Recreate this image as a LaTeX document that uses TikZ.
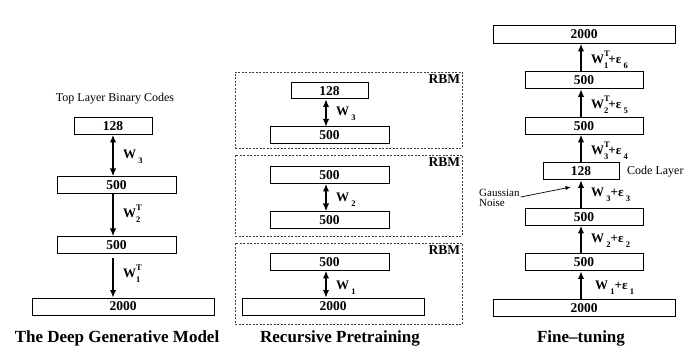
\documentclass[tikz,border=0pt]{standalone}
\usepackage{fontspec}
\setmainfont{Liberation Serif}
\usetikzlibrary{arrows.meta}
\newcommand{\wts}[2]{W\makebox[0pt][l]{\raisebox{0.5em}{\fontsize{8.5}{9}\selectfont #1}}\raisebox{-0.4em}{\fontsize{8.5}{9}\selectfont #2}}
\newcommand{\wsb}[1]{W\,\raisebox{-0.4em}{\fontsize{8.5}{9}\selectfont #1}}
\newcommand{\eps}[1]{ε\,\raisebox{-0.4em}{\fontsize{8.5}{9}\selectfont #1}}
\begin{document}
\begin{tikzpicture}[x=1pt,y=-1pt,
 layer/.style={draw, line width=1pt, minimum height=17pt, inner sep=0pt, font=\fontsize{13.5}{14}\selectfont\bfseries},
 lbl/.style={font=\fontsize{13}{14}\selectfont\bfseries, anchor=west, inner sep=0pt},
 arr/.style={-{Latex[length=7.5pt,width=6.5pt]}, line width=1.1pt},
 darr/.style={{Latex[length=7.5pt,width=6.5pt]}-{Latex[length=7.5pt,width=6.5pt]}, line width=1.1pt},
 rbm/.style={draw=black!75, dash pattern=on 2pt off 1.5pt, line width=0.7pt, inner sep=0pt},
 rbmlbl/.style={font=\fontsize{13.5}{14}\selectfont\bfseries, anchor=north east, inner sep=0pt, xshift=-2pt, yshift=-3pt},
 title/.style={font=\fontsize{17}{18}\selectfont\bfseries, inner sep=0pt},
 note/.style={font=\fontsize{12}{13}\selectfont, inner sep=0pt},
]
\useasboundingbox (0,0) rectangle (685,347);

% ---------- Left column ----------
\node[note] (toplbl) at (115,99) {Top Layer Binary Codes};
\node[layer, minimum width=78pt] (L128) at (113,126) {128};
\node[layer, minimum width=119pt] (L500a) at (116.5,185) {500};
\node[layer, minimum width=119pt] (L500b) at (116.5,245) {500};
\node[layer, minimum width=182pt] (L2000) at (123,306.5) {2000};
\draw[darr] (L128.south) -- (L128.south |- L500a.north);
\draw[arr] (L128.south |- L500a.south) -- (L128.south |- L500b.north);
\draw[arr] ([yshift=-4pt]L128.south |- L500b.south) -- (L128.south |- L2000.north);
\node[lbl] (lw3) at (123,157) {\wsb{3}};
\node[lbl] (lw2) at (123,214) {\wts{T}{2}};
\node[lbl] (lw1) at (123,274) {\wts{T}{1}};
\node[title] (t1) at (117,338) {The Deep Generative Model};

% ---------- Middle column ----------
\node[rbm, minimum width=227pt, minimum height=76pt] (F1) at (348.5,110) {};
\node[rbm, minimum width=227pt, minimum height=81pt] (F2) at (348.5,195.5) {};
\node[rbm, minimum width=227pt, minimum height=81pt] (F3) at (348.5,283.5) {};
\node[rbmlbl] (r1) at (F1.north east) {RBM};
\node[rbmlbl] (r2) at (F2.north east) {RBM};
\node[rbmlbl] (r3) at (F3.north east) {RBM};
\node[layer, minimum width=77pt, minimum height=16pt] (M128) at (329.5,91) {128};
\node[layer, minimum width=119pt] (M500a) at (329.5,135.5) {500};
\node[layer, minimum width=119pt] (M500b) at (329.5,175) {500};
\node[layer, minimum width=119pt] (M500c) at (329.5,220) {500};
\node[layer, minimum width=119pt] (M500d) at (329.5,262) {500};
\node[layer, minimum width=182pt] (M2000) at (333,306.5) {2000};
\coordinate (mx) at (326,0);
\draw[darr] (M128.south -| mx) -- (M500a.north -| mx);
\draw[darr] (M500b.south -| mx) -- (M500c.north -| mx);
\draw[darr] (M500d.south -| mx) -- (M2000.north -| mx);
\node[lbl] (mw3) at (336,114) {\wsb{3}};
\node[lbl] (mw2) at (336,200) {\wsb{2}};
\node[lbl] (mw1) at (336,288) {\wsb{1}};
\node[title] (t2) at (340,338) {Recursive Pretraining};

% ---------- Right column ----------
\node[layer, minimum width=182pt, minimum height=18pt] (R2000t) at (584,34.5) {2000};
\node[layer, minimum width=118pt] (R500a) at (584,80.5) {500};
\node[layer, minimum width=118pt] (R500b) at (584,126) {500};
\node[layer, minimum width=76pt] (R128) at (581,171.5) {128};
\node[layer, minimum width=118pt] (R500c) at (584,217) {500};
\node[layer, minimum width=118pt] (R500d) at (584,262.5) {500};
\node[layer, minimum width=182pt] (R2000) at (584,308) {2000};
\draw[arr] (R2000.north -| R128) -- (R500d.south -| R128);
\draw[arr] (R500d.north -| R128) -- (R500c.south -| R128);
\draw[arr] (R500c.north -| R128) -- (R128.south);
\draw[arr] (R128.north) -- (R500b.south -| R128);
\draw[arr] (R500b.north -| R128) -- (R500a.south -| R128);
\draw[arr] (R500a.north -| R128) -- (R2000t.south -| R128);
\node[lbl] (rw6) at (591,60) {\wts{T}{1}+\eps{6}};
\node[lbl] (rw5) at (591,105) {\wts{T}{2}+\eps{5}};
\node[lbl] (rw4) at (591,151) {\wts{T}{3}+\eps{4}};
\node[lbl] (rw3) at (591,195) {\wsb{3}+\eps{3}};
\node[lbl] (rw2) at (591,241) {\wsb{2}+\eps{2}};
\node[lbl] (rw1) at (595,288) {\wsb{1}+\eps{1}};
\node[note, anchor=west] (code) at (627,172) {Code Layer};
\node[note, font=\fontsize{11}{10}\selectfont, align=left, anchor=west] (gn) at (479,198) {Gaussian\\Noise};
\coordinate (gnt) at (571,187);
\draw[-{Latex[length=5.5pt,width=4pt]}, line width=0.7pt] ([xshift=1pt,yshift=1pt]gn.east) -- (gnt);
\node[title] (t3) at (581,338) {Fine–tuning};
\end{tikzpicture}
\end{document}
